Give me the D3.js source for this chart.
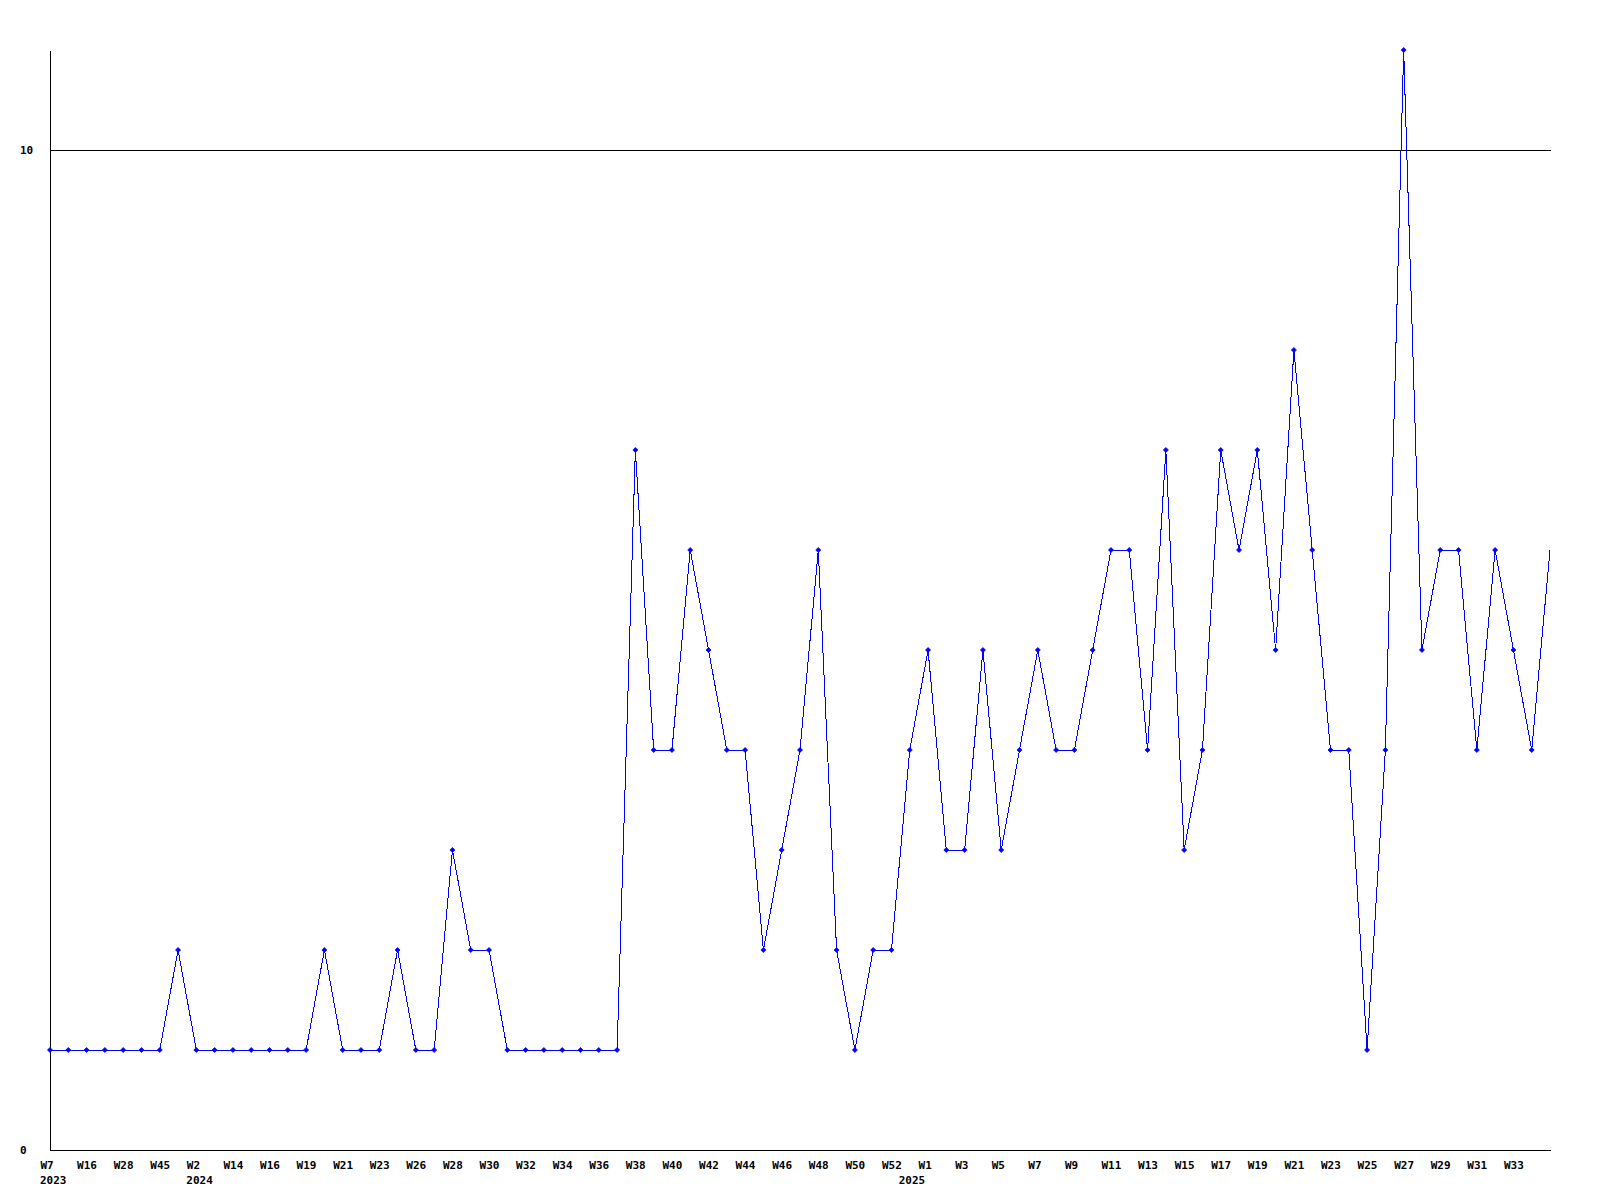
<!DOCTYPE html>
<html>
<head>
<meta charset="utf-8">
<script src="https://cdn.jsdelivr.net/npm/d3@7"></script>
<style>
  html, body { margin: 0; padding: 0; background: #fff; }
  svg { display: block; }
  text { font-family: "DejaVu Sans Mono", "Liberation Mono", monospace; font-weight: bold; font-size: 11px; fill: #000; }
</style>
</head>
<body>
<svg id="chart" width="1600" height="1200"></svg>
<script>
// Weekly values (one per point)
const values = [
  1, 1, 1, 1, 1, 1, 1, 2, 1, 1,
  1, 1, 1, 1, 1, 2, 1, 1, 1, 2,
  1, 1, 3, 2, 2, 1, 1, 1, 1, 1,
  1, 1, 7, 4, 4, 6, 5, 4, 4, 2,
  3, 4, 6, 2, 1, 2, 2, 4, 5, 3,
  3, 5, 3, 4, 5, 4, 4, 5, 6, 6,
  4, 7, 3, 4, 7, 6, 7, 5, 8, 6,
  4, 4, 1, 4, 11, 5, 6, 6, 4, 6,
  5, 4, 6
];
// Tick labels shown at every second point
const tickLabels = [
  "W7", "W16", "W28", "W45", "W2", "W14", "W16", "W19", "W21", "W23",
  "W26", "W28", "W30", "W32", "W34", "W36", "W38", "W40", "W42", "W44",
  "W46", "W48", "W50", "W52", "W1", "W3", "W5", "W7", "W9", "W11",
  "W13", "W15", "W17", "W19", "W21", "W23", "W25", "W27", "W29", "W31",
  "W33"
];
// Year labels and the point index where each year starts
const yearPointIdx = [0, 8, 47];
const yearLabels = ["2023", "2024", "2025"];
const yTicks = [0, 10];

const svg = d3.select("#chart");
const x = d3.scaleLinear().domain([0, values.length - 1]).range([50, 1550]);
const y = d3.scaleLinear().domain([0, 11]).range([1150, 50]);

// gridline at 10
svg.append("line")
  .attr("x1", 50).attr("x2", 1551)
  .attr("y1", y(10)).attr("y2", y(10))
  .attr("stroke", "#000").attr("shape-rendering", "crispEdges");

// y axis
const yAxis = svg.append("g").attr("transform", "translate(50,0)")
  .call(d3.axisLeft(y).tickValues(yTicks).tickSize(0).tickFormat(d3.format("d")));
yAxis.attr("font-family", null).attr("font-size", null);
yAxis.select(".domain").attr("stroke", "#000").attr("shape-rendering", "crispEdges");
yAxis.selectAll("text")
  .attr("x", -30).attr("dx", 0).attr("text-anchor", "start");

// x axis
const evenIdx = tickLabels.map((_, i) => i * 2);
const xAxis = svg.append("g").attr("transform", "translate(0,1150)")
  .call(d3.axisBottom(x).tickValues(evenIdx).tickSize(0).tickFormat(d => tickLabels[d / 2]));
xAxis.attr("font-family", null).attr("font-size", null);
xAxis.select(".domain").attr("stroke", "#000").attr("shape-rendering", "crispEdges");
xAxis.selectAll("text")
  .attr("text-anchor", "start")
  .attr("x", -10).attr("y", 19).attr("dy", 0);

// year labels
svg.append("g").selectAll("text")
  .data(yearPointIdx)
  .join("text")
  .attr("x", (d, i) => x(d) - (i === 2 ? 11 : 10))
  .attr("y", 1184)
  .text((d, i) => yearLabels[i]);

// line
const line = d3.line().x((d, i) => x(i)).y(d => y(d));
svg.append("path")
  .datum(values)
  .attr("d", line)
  .attr("fill", "none")
  .attr("stroke", "#0000ff")
  .attr("stroke-width", 1)
  .attr("shape-rendering", "crispEdges");

// markers (the last point has none)
svg.append("g").selectAll("path")
  .data(values.slice(0, values.length - 1))
  .join("path")
  .attr("transform", (d, i) => `translate(${x(i)},${y(d)})`)
  .attr("d", "M0,-2.5L2.5,0L0,2.5L-2.5,0Z")
  .attr("fill", "#0000ff")
  .attr("stroke", "#0000ff")
  .attr("stroke-width", 0.8);
</script>
</body>
</html>
